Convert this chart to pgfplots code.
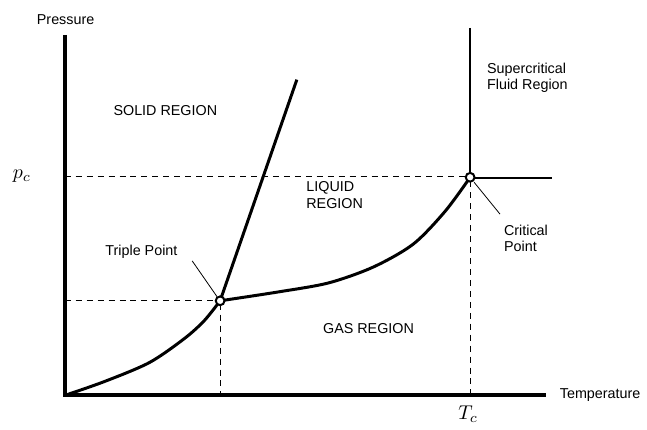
\documentclass[border=0pt]{standalone}
\usepackage{pgfplots}
\pgfplotsset{compat=1.18}
\usepackage{fontspec}
\setmainfont{Liberation Sans}
\begin{document}
\begin{tikzpicture}
\begin{axis}[
  width=323.5pt, height=214.5pt, scale only axis,
  xmin=0, xmax=647, ymin=0, ymax=429, y dir=reverse,
  hide axis, clip=false,
  font=\fontsize{7.2}{8.2}\selectfont,
]
\draw[draw=none] (rel axis cs:0,0) rectangle (rel axis cs:1,1);
% axes
\addplot[black, line width=2pt] coordinates {(65,35) (65,397) (548,397)};
% dashed guides
\addplot[black, line width=0.5pt, dash pattern=on 3pt off 2.5pt] coordinates {(65,177) (468,177)};
\addplot[black, line width=0.5pt, dash pattern=on 3pt off 2.5pt] coordinates {(65,302) (218,302)};
\addplot[black, line width=0.5pt, dash pattern=on 3pt off 2.5pt] coordinates {(221,305) (221,397)};
\addplot[black, line width=0.5pt, dash pattern=on 3pt off 2.5pt] coordinates {(472,182) (472,397)};
% supercritical boundaries
\addplot[black, line width=1pt] coordinates {(472,28) (472,175)};
\addplot[black, line width=1pt] coordinates {(475,179) (554,179)};
% sublimation curve
\addplot[black, line width=1.5pt, smooth] coordinates {(65,397) (105,383) (150,364) (185,340) (205,322) (221,302)};
% melting curve
\addplot[black, line width=1.5pt] coordinates {(221,302) (298,80)};
% vaporization curve
\addplot[black, line width=1.5pt, smooth] coordinates {(221,302) (280,293) (330,284) (375,268) (415,245) (447,212) (472,178)};
% leader lines
\addplot[black, line width=0.4pt] coordinates {(193,262) (218,298)};
\addplot[black, line width=0.4pt] coordinates {(476,183) (502,215)};
% points
\addplot[only marks, mark=*, mark size=2.2pt, mark options={fill=white, draw=black, line width=1pt}] coordinates {(221,302) (472,178)};
% labels
\node[anchor=west] at (axis cs:30,20) {Pressure};
\node[anchor=west] at (axis cs:555,397) {Temperature};
\node at (axis cs:22,177) {\fontsize{10}{10}\selectfont$p_c$};
\node at (axis cs:470,416) {\fontsize{10}{10}\selectfont$T_c$};
\node at (axis cs:166,111) {SOLID REGION};
\node[align=left] at (axis cs:336,196) {LIQUID\\REGION};
\node at (axis cs:370,330) {GAS REGION};
\node at (axis cs:142,253) {Triple Point};
\node[align=left, anchor=west] at (axis cs:482,78) {Supercritical\\Fluid Region};
\node[align=left, anchor=west] at (axis cs:499,239) {Critical\\Point};
\end{axis}
\end{tikzpicture}
\end{document}
